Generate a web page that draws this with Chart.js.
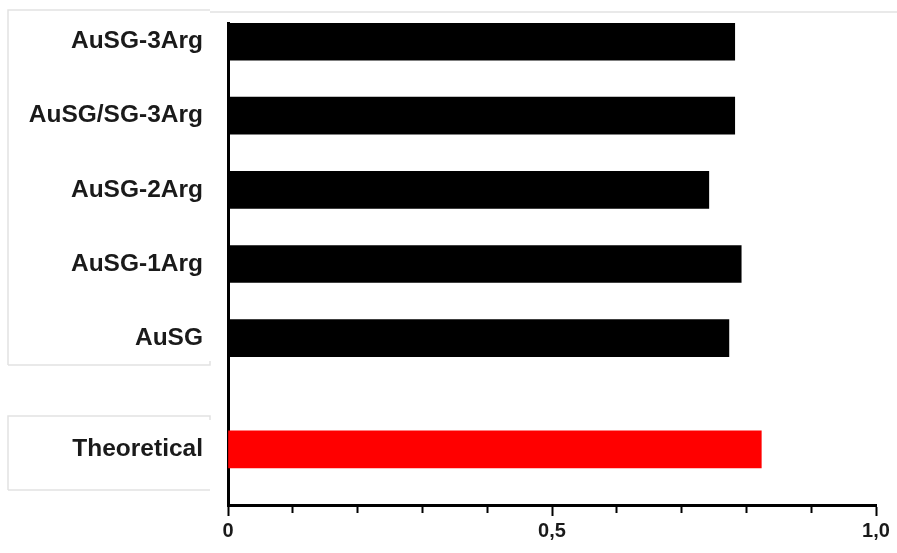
<!DOCTYPE html>
<html>
<head>
<meta charset="utf-8">
<script src="https://cdn.jsdelivr.net/npm/chart.js@4.4.0/dist/chart.umd.min.js"></script>
<style>
  html, body { margin: 0; padding: 0; background: #fff; }
  #wrap { width: 897px; height: 553px; position: relative; }
</style>
</head>
<body>
<div id="wrap"><canvas id="barChart"></canvas></div>
<script>
// Category slots, top to bottom (empty strings are spacer rows)
const categories = ['AuSG-3Arg', '', 'AuSG/SG-3Arg', '', 'AuSG-2Arg', '', 'AuSG-1Arg', '', 'AuSG', '', '', 'Theoretical', ''];
const values = [0.782, null, 0.782, null, 0.742, null, 0.792, null, 0.773, null, null, 0.823, null];
const xTickLabels = { 0: '0', 0.5: '0,5', 1: '1,0' };

const BAR_COLOR = '#000000';
const THEORY_COLOR = '#ff0000';

// faint table outlines behind the labels
const tableLines = {
    id: 'tableLines',
    beforeDraw(chart) {
        const ctx = chart.ctx;
        ctx.save();
        ctx.strokeStyle = '#e2e2e2';
        ctx.lineWidth = 1.5;
        ctx.beginPath();
        // upper box
        ctx.moveTo(8, 365); ctx.lineTo(8, 10); ctx.lineTo(210, 10);
        ctx.moveTo(8, 365); ctx.lineTo(210, 365); ctx.lineTo(210, 361);
        // top rule across
        ctx.moveTo(210, 12); ctx.lineTo(897, 12);
        // lower box
        ctx.moveTo(8, 490); ctx.lineTo(8, 416); ctx.lineTo(210, 416); ctx.lineTo(210, 420);
        ctx.moveTo(8, 490); ctx.lineTo(210, 490);
        ctx.stroke();
        ctx.restore();
    }
};

function isMajor(v) {
    return Math.abs(v) < 1e-6 || Math.abs(v - 0.5) < 1e-6 || Math.abs(v - 1) < 1e-6;
}

const ctx = document.getElementById('barChart').getContext('2d');
new Chart(ctx, {
    type: 'bar',
    data: {
        labels: categories,
        datasets: [{
            data: values,
            backgroundColor: (c) => categories[c.dataIndex] === 'Theoretical' ? THEORY_COLOR : BAR_COLOR,
            borderWidth: 0,
            categoryPercentage: 1,
            barPercentage: 1
        }]
    },
    plugins: [tableLines],
    options: {
        indexAxis: 'y',
        responsive: true,
        maintainAspectRatio: false,
        animation: false,
        layout: { padding: { top: 23, right: 21, left: 0, bottom: 0 } },
        plugins: {
            legend: { display: false },
            tooltip: { enabled: false }
        },
        scales: {
            x: {
                type: 'linear',
                min: 0,
                max: 1,
                border: { display: true, color: '#000', width: 3 },
                grid: {
                    display: true,
                    drawOnChartArea: false,
                    drawTicks: true,
                    tickLength: 11,
                    tickWidth: 2,
                    tickColor: '#000',
                    tickBorderDash: (c) => isMajor(c.tick.value) ? [] : [6, 100]
                },
                ticks: {
                    stepSize: 0.1,
                    autoSkip: false,
                    maxRotation: 0,
                    padding: 3,
                    color: '#1a1a1a',
                    font: { family: '"Liberation Sans", Arial, sans-serif', size: 20, weight: 'bold' },
                    callback: (v) => {
                        for (const k in xTickLabels) {
                            if (Math.abs(v - Number(k)) < 1e-6) return xTickLabels[k];
                        }
                        return '';
                    }
                },
                afterFit: (scale) => { scale.height = 48; }
            },
            y: {
                border: { display: true, color: '#000', width: 3 },
                grid: { display: true, drawOnChartArea: false, drawTicks: false },
                ticks: {
                    autoSkip: false,
                    padding: 25,
                    color: '#1a1a1a',
                    font: { family: '"Liberation Sans", Arial, sans-serif', size: 24.5, weight: 'bold' }
                },
                afterFit: (scale) => {
                    scale.width = 228;
                    scale.paddingTop = 0;
                    scale.paddingBottom = 0;
                }
            }
        }
    }
});
</script>
</body>
</html>
